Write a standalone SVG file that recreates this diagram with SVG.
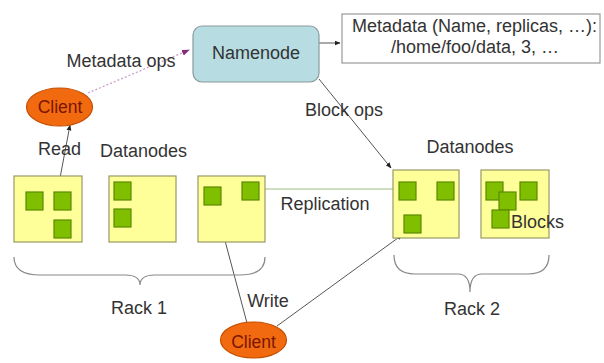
<svg xmlns="http://www.w3.org/2000/svg" width="604" height="363" viewBox="0 0 604 363">
<style>
text{font-family:"Liberation Sans",Arial,sans-serif;font-size:18px;fill:#333}
.dn{fill:#FFFF99;stroke:#999966;stroke-width:1.2}
.blk{fill:#7FBF00;stroke:#5A8A00;stroke-width:1.2}
.cl{fill:#F26A10;stroke:#C24E00;stroke-width:1.2}
.cltx{fill:#7A1500;font-size:17.5px}
.ln{fill:none;stroke:#555;stroke-width:1}
.br{fill:none;stroke:#888;stroke-width:1.2}
</style>
<defs>
<marker id="ah" viewBox="0 0 10 10" refX="9" refY="5" markerWidth="6" markerHeight="6" orient="auto"><path d="M0,1 L10,5 L0,9 z" fill="#222"/></marker>
<marker id="ahp" viewBox="0 0 10 10" refX="9" refY="5" markerWidth="6" markerHeight="6" orient="auto"><path d="M0,1 L10,5 L0,9 z" fill="#8A2A7A"/></marker>
</defs>
<rect width="604" height="363" fill="#fff"/>
<g id="connectors">
<line class="ln" x1="319" y1="43" x2="340" y2="43" marker-end="url(#ah)"/>
<line x1="88" y1="93" x2="189" y2="50" stroke="#C9A0C8" stroke-width="1.3" stroke-dasharray="2,2" marker-end="url(#ahp)"/>
<line class="ln" x1="60" y1="178" x2="70" y2="125" marker-end="url(#ah)"/>
<line class="ln" x1="319" y1="79" x2="391" y2="168" marker-end="url(#ah)"/>
<line x1="259" y1="189" x2="399" y2="189" stroke="#9ABF80" stroke-width="1"/>
<line class="ln" x1="247" y1="323" x2="216" y2="207" marker-end="url(#ah)"/>
<line class="ln" x1="277" y1="326" x2="402" y2="235" marker-end="url(#ah)"/>
<path class="br" d="M14,257 Q14,275 40,275 L125,275 Q140,275 140,285 Q140,275 155,275 L240,275 Q265,275 265,257"/>
<path class="br" d="M394,255 Q394,274 415,274 L458,274 Q470,274 470,292 Q470,274 482,274 L528,274 Q549,274 549,255"/>
</g>
<g id="namenode">
<rect x="193" y="26" width="126" height="56" rx="9" fill="#B7DDE3" stroke="#8A9A9A" stroke-width="1.2"/>
<text x="256" y="59" text-anchor="middle">Namenode</text>
</g>
<g id="metadata">
<rect x="342" y="14" width="258" height="49" fill="#fff" stroke="#999" stroke-width="1.2"/>
<text x="352" y="32">Metadata (Name, replicas, …):</text>
<text x="391" y="53">/home/foo/data, 3, …</text>
</g>
<g id="client-read">
<ellipse class="cl" cx="59.5" cy="107" rx="33" ry="19"/>
<text class="cltx" x="60" y="113" text-anchor="middle">Client</text>
</g>
<g id="client-write">
<ellipse class="cl" cx="253.5" cy="340" rx="33" ry="18"/>
<text class="cltx" x="253.5" y="348" text-anchor="middle">Client</text>
</g>
<g id="rack1-dn1">
<rect class="dn" x="14" y="176" width="68" height="66"/>
<rect class="blk" x="26" y="192" width="17" height="18"/>
<rect class="blk" x="54" y="192" width="17" height="18"/>
<rect class="blk" x="54" y="220" width="17" height="18"/>
</g>
<g id="rack1-dn2">
<rect class="dn" x="109" y="176" width="67" height="66"/>
<rect class="blk" x="114" y="182" width="17" height="18"/>
<rect class="blk" x="114" y="209" width="17" height="18"/>
</g>
<g id="rack1-dn3">
<rect class="dn" x="198" y="176" width="67" height="66"/>
<rect class="blk" x="204" y="187" width="17" height="18"/>
<rect class="blk" x="242" y="182" width="17" height="18"/>
</g>
<g id="rack2-dn1">
<rect class="dn" x="393" y="170" width="66" height="68"/>
<rect class="blk" x="399" y="182" width="17" height="18"/>
<rect class="blk" x="437" y="182" width="17" height="18"/>
<rect class="blk" x="404" y="215" width="17" height="18"/>
</g>
<g id="rack2-dn2">
<rect class="dn" x="481" y="170" width="68" height="68"/>
<rect class="blk" x="486" y="182" width="17" height="18"/>
<rect class="blk" x="520" y="182" width="17" height="18"/>
<rect class="blk" x="499" y="192" width="17" height="18"/>
<rect class="blk" x="492" y="210" width="17" height="18"/>
</g>
<g id="labels">
<text x="121" y="67" text-anchor="middle">Metadata ops</text>
<text x="59.5" y="155" text-anchor="middle">Read</text>
<text x="143.5" y="157" text-anchor="middle">Datanodes</text>
<text x="344" y="116" text-anchor="middle">Block ops</text>
<text x="470" y="153" text-anchor="middle">Datanodes</text>
<text x="325" y="210" text-anchor="middle">Replication</text>
<text x="537.5" y="228" text-anchor="middle">Blocks</text>
<text x="139" y="314" text-anchor="middle">Rack 1</text>
<text x="268" y="307" text-anchor="middle">Write</text>
<text x="472" y="315" text-anchor="middle">Rack 2</text>
</g>
</svg>
